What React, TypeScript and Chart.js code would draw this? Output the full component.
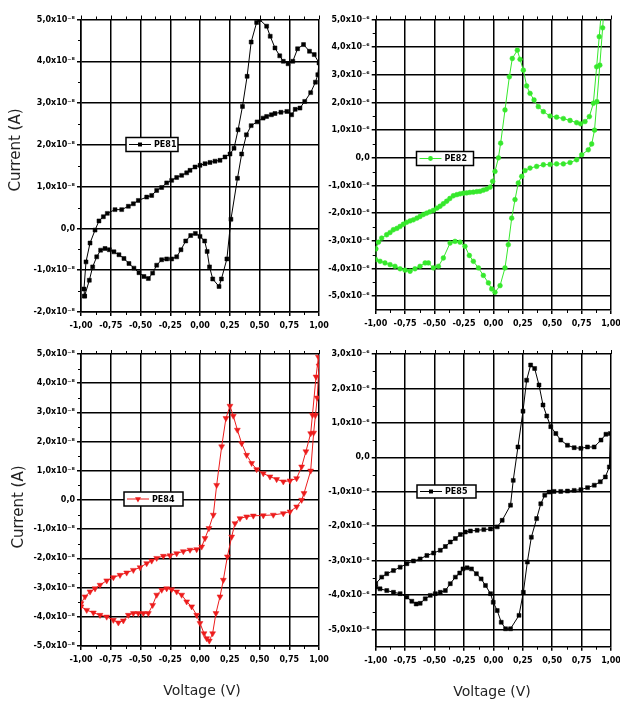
import React, { useEffect, useRef } from "react";
import { Chart, registerables } from "chart.js";
Chart.register(...registerables);

// ---------- tick values and labels ----------
const voltageTicks = [-1, -0.75, -0.5, -0.25, 0, 0.25, 0.5, 0.75, 1];
const voltageTickLabels = ["-1,00", "-0,75", "-0,50", "-0,25", "0,00", "0,25", "0,50", "0,75", "1,00"];

const pe81Ticks = [-2, -1, 0, 1, 2, 3, 4, 5];
const pe81TickLabels = ["-2,0x10⁻⁸", "-1,0x10⁻⁸", "0,0", "1,0x10⁻⁸", "2,0x10⁻⁸", "3,0x10⁻⁸", "4,0x10⁻⁸", "5,0x10⁻⁸"];

const pe82Ticks = [-5, -4, -3, -2, -1, 0, 1, 2, 3, 4, 5];
const pe82TickLabels = ["-5,0x10⁻⁶", "-4,0x10⁻⁶", "-3,0x10⁻⁶", "-2,0x10⁻⁶", "-1,0x10⁻⁶", "0,0", "1,0x10⁻⁶", "2,0x10⁻⁶", "3,0x10⁻⁶", "4,0x10⁻⁶", "5,0x10⁻⁶"];

const pe84Ticks = [-5, -4, -3, -2, -1, 0, 1, 2, 3, 4, 5];
const pe84TickLabels = ["-5,0x10⁻⁸", "-4,0x10⁻⁸", "-3,0x10⁻⁸", "-2,0x10⁻⁸", "-1,0x10⁻⁸", "0,0", "1,0x10⁻⁸", "2,0x10⁻⁸", "3,0x10⁻⁸", "4,0x10⁻⁸", "5,0x10⁻⁸"];

const pe85Ticks = [-5, -4, -3, -2, -1, 0, 1, 2, 3];
const pe85TickLabels = ["-5,0x10⁻⁶", "-4,0x10⁻⁶", "-3,0x10⁻⁶", "-2,0x10⁻⁶", "-1,0x10⁻⁶", "0,0", "1,0x10⁻⁶", "2,0x10⁻⁶", "3,0x10⁻⁶"];

// ---------- series (voltage in V, current in units of the tick multiplier) ----------
const pe81Voltage = [
  -0.97, -0.93, -0.902, -0.868, -0.835, -0.798, -0.762, -0.723, -0.681, -0.639, -0.597, -0.555, -0.513, -0.471, -0.434,
  -0.398, -0.364, -0.322, -0.28, -0.238, -0.196, -0.16, -0.12, -0.078, -0.039, 0.0, 0.039, 0.06, 0.08, 0.107, 0.16,
  0.18, 0.226, 0.26, 0.315, 0.35, 0.39, 0.43, 0.48, 0.53, 0.56, 0.6, 0.63, 0.68, 0.73, 0.77, 0.8, 0.84, 0.88, 0.93,
  0.97, 0.99, 1.0,
  0.96, 0.92, 0.87, 0.82, 0.78, 0.74, 0.7, 0.67, 0.63, 0.59, 0.56, 0.5, 0.476, 0.43, 0.396, 0.357, 0.32, 0.286,
  0.252, 0.21, 0.168, 0.126, 0.084, 0.042, 0.0, -0.042, -0.084, -0.112, -0.154, -0.196, -0.238, -0.28, -0.322,
  -0.364, -0.406, -0.448, -0.518, -0.56, -0.602, -0.658, -0.714, -0.779, -0.812, -0.849, -0.882, -0.924, -0.958,
  -0.975, -0.97,
];
const pe81Current = [
  -1.62, -1.24, -0.92, -0.68, -0.52, -0.48, -0.51, -0.56, -0.63, -0.72, -0.84, -0.95, -1.06, -1.15, -1.2,
  -1.07, -0.88, -0.75, -0.73, -0.73, -0.68, -0.51, -0.3, -0.17, -0.12, -0.19, -0.3, -0.55, -0.92, -1.21, -1.39,
  -1.21, -0.73, 0.22, 1.2, 1.78, 2.24, 2.46, 2.55, 2.64, 2.68, 2.72, 2.75, 2.78, 2.8, 2.72, 2.85, 2.88, 3.04, 3.25,
  3.5, 3.68, 3.96,
  4.16, 4.24, 4.4, 4.3, 4.0, 3.94, 4.0, 4.13, 4.32, 4.6, 4.84, 5.0, 4.93, 4.46, 3.64, 2.92, 2.36, 1.92,
  1.78, 1.71, 1.63, 1.61, 1.58, 1.55, 1.51, 1.47, 1.39, 1.33, 1.27, 1.22, 1.15, 1.09, 0.98,
  0.91, 0.79, 0.75, 0.67, 0.59, 0.53, 0.45, 0.45, 0.36, 0.28, 0.18, -0.04, -0.35, -0.8,
  -1.45, -1.62,
];

const pe82Voltage = [
  -1.0, -0.977, -0.949, -0.907, -0.878, -0.85, -0.82, -0.793, -0.765, -0.737, -0.708, -0.68, -0.65, -0.623, -0.595,
  -0.567, -0.54, -0.51, -0.48, -0.453, -0.425, -0.397, -0.37, -0.34, -0.31, -0.283, -0.255, -0.227, -0.2, -0.17,
  -0.14, -0.113, -0.085, -0.057, -0.028, -0.006, 0.014, 0.043, 0.062, 0.099, 0.136, 0.161, 0.204, 0.227, 0.255,
  0.283, 0.312, 0.346, 0.382, 0.425, 0.482, 0.538, 0.595, 0.652, 0.708, 0.742, 0.779, 0.816, 0.85, 0.878, 0.9, 0.92,
  0.94, 0.929, 0.905, 0.88, 0.86, 0.836, 0.807, 0.751, 0.708, 0.652, 0.595, 0.538, 0.482, 0.425, 0.368, 0.312,
  0.269, 0.241, 0.212, 0.184, 0.156, 0.127, 0.099, 0.057, 0.014, -0.014, -0.042, -0.085, -0.127, -0.17, -0.204,
  -0.241, -0.283, -0.326, -0.368, -0.425, -0.467, -0.51, -0.552, -0.58, -0.623, -0.666, -0.708, -0.75, -0.793,
  -0.836, -0.878, -0.921, -0.963, -1.0, -1.0,
];
const pe82Current = [
  -3.29, -3.05, -2.9, -2.78, -2.7, -2.6, -2.55, -2.48, -2.4, -2.33, -2.28, -2.24, -2.18, -2.12, -2.05,
  -2.0, -1.95, -1.9, -1.82, -1.75, -1.66, -1.57, -1.47, -1.37, -1.33, -1.3, -1.28, -1.27, -1.25, -1.24,
  -1.22, -1.21, -1.17, -1.13, -1.06, -0.85, -0.49, 0.0, 0.53, 1.73, 2.93, 3.59, 3.89, 3.56, 3.17,
  2.6, 2.33, 2.09, 1.85, 1.67, 1.51, 1.47, 1.42, 1.35, 1.27, 1.23, 1.31, 1.49, 1.97, 3.29, 4.38, 5.4,
  5.4, 4.7, 3.35, 2.03, 1.0, 0.5, 0.29, 0.11, -0.07, -0.17, -0.22, -0.22, -0.24, -0.25, -0.31, -0.37,
  -0.46, -0.67, -0.91, -1.51, -2.18, -3.14, -3.98, -4.62, -4.86, -4.74, -4.52, -4.25, -3.98, -3.74, -3.53,
  -3.2, -3.05, -3.02, -3.08, -3.62, -3.92, -3.98, -3.8, -3.8, -3.92, -4.01, -4.1, -4.06, -4.01,
  -3.92, -3.86, -3.8, -3.74, -3.68, -3.29,
];

const pe84Voltage = [
  -1.0, -0.966, -0.924, -0.882, -0.84, -0.784, -0.728, -0.672, -0.616, -0.56, -0.504, -0.448, -0.406, -0.364,
  -0.308, -0.252, -0.196, -0.14, -0.084, -0.028, 0.014, 0.042, 0.075, 0.112, 0.14, 0.182, 0.218, 0.252, 0.28,
  0.314, 0.35, 0.392, 0.434, 0.476, 0.532, 0.588, 0.644, 0.7, 0.756, 0.812, 0.854, 0.89, 0.93, 0.945, 0.975, 0.995,
  1.0, 0.985, 0.97, 0.955, 0.93, 0.874, 0.854, 0.812, 0.756, 0.7, 0.616, 0.532, 0.448, 0.392, 0.336, 0.294, 0.266,
  0.23, 0.196, 0.168, 0.134, 0.106, 0.078, 0.056, 0.034, 0.0, -0.028, -0.07, -0.112, -0.154, -0.196, -0.238,
  -0.28, -0.322, -0.364, -0.398, -0.434, -0.476, -0.518, -0.56, -0.602, -0.644, -0.686, -0.728, -0.784, -0.84,
  -0.896, -0.952, -1.0,
];
const pe84Current = [
  -3.54, -3.31, -3.14, -3.03, -2.91, -2.76, -2.65, -2.57, -2.49, -2.4, -2.31, -2.17, -2.08, -1.99,
  -1.92, -1.9, -1.83, -1.76, -1.71, -1.69, -1.6, -1.31, -0.97, -0.51, 0.51, 1.83, 2.8, 3.22, 2.88,
  2.4, 1.94, 1.54, 1.26, 1.05, 0.91, 0.8, 0.71, 0.63, 0.66, 0.74, 1.14, 1.66, 2.28, 2.91, 4.22, 4.9,
  4.6, 3.5, 2.9, 2.3, 1.0, 0.23, 0.0, -0.23, -0.4, -0.46, -0.51, -0.53, -0.54, -0.57, -0.63, -0.8, -1.26,
  -1.94, -2.74, -3.31, -3.88, -4.57, -4.82, -4.74, -4.57, -4.22, -3.94, -3.65, -3.48, -3.25, -3.14, -3.06,
  -3.03, -3.08, -3.25, -3.6, -3.88, -3.88, -3.88, -3.88, -3.94, -4.13, -4.2, -4.11, -4.0, -3.94,
  -3.86, -3.77, -3.65,
];

const pe85Voltage = [
  -1.0, -0.949, -0.906, -0.849, -0.792, -0.735, -0.679, -0.622, -0.565, -0.508, -0.451, -0.408, -0.366, -0.323,
  -0.28, -0.238, -0.195, -0.138, -0.081, -0.024, 0.033, 0.075, 0.146, 0.169, 0.209, 0.252, 0.283, 0.317, 0.351,
  0.388, 0.422, 0.454, 0.488, 0.531, 0.573, 0.63, 0.687, 0.744, 0.8, 0.857, 0.915, 0.957, 0.994,
  0.986, 0.952, 0.909, 0.858, 0.801, 0.744, 0.687, 0.63, 0.573, 0.516, 0.474, 0.437, 0.403, 0.368, 0.323, 0.289,
  0.255, 0.218, 0.146, 0.104, 0.067, 0.033, -0.001, -0.024, -0.067, -0.104, -0.144, -0.186, -0.223, -0.258,
  -0.286, -0.323, -0.366, -0.408, -0.451, -0.494, -0.536, -0.579, -0.622, -0.656, -0.693, -0.735, -0.792, -0.849,
  -0.906, -0.963, -1.0,
];
const pe85Current = [
  -3.67, -3.48, -3.38, -3.29, -3.19, -3.09, -3.01, -2.95, -2.85, -2.78, -2.7, -2.59, -2.46, -2.36,
  -2.24, -2.17, -2.14, -2.12, -2.1, -2.08, -2.02, -1.83, -1.39, -0.67, 0.3, 1.34, 2.24, 2.68, 2.58,
  2.1, 1.52, 1.2, 0.89, 0.69, 0.5, 0.35, 0.28, 0.26, 0.3, 0.3, 0.5, 0.67, 0.69,
  -0.28, -0.57, -0.71, -0.81, -0.88, -0.94, -0.96, -0.98, -0.99, -0.99, -1.01, -1.1, -1.35, -1.78, -2.32, -3.04,
  -3.92, -4.59, -4.98, -4.98, -4.79, -4.45, -4.21, -3.96, -3.72, -3.53, -3.38, -3.24, -3.21, -3.24,
  -3.36, -3.48, -3.67, -3.87, -3.92, -3.96, -4.01, -4.11, -4.24, -4.26, -4.18, -4.06, -3.96, -3.92,
  -3.87, -3.82, -3.77,
];

// ---------- helpers ----------
const TICK_FONT = { family: "'DejaVu Sans', sans-serif", size: 8, weight: "bold" as const };

function drawMarker(ctx: CanvasRenderingContext2D, style: string, x: number, y: number, r: number, color: string) {
  ctx.save();
  ctx.fillStyle = color;
  ctx.beginPath();
  if (style === "rect") {
    const s = r / Math.SQRT2;
    ctx.rect(x - s, y - s, 2 * s, 2 * s);
  } else if (style === "triangleDown") {
    ctx.moveTo(x - r * 0.87, y - r * 0.5);
    ctx.lineTo(x + r * 0.87, y - r * 0.5);
    ctx.lineTo(x, y + r);
    ctx.closePath();
  } else {
    ctx.arc(x, y, r, 0, Math.PI * 2);
  }
  ctx.fill();
  ctx.restore();
}

type Area = { left: number; right: number; top: number; bottom: number };
type PanelProps = {
  left: number;
  top: number;
  width: number;
  height: number;
  area: Area;
  xs: number[];
  ys: number[];
  label: string;
  color: string;
  marker: string;
  radius: number;
  yMin: number;
  yMax: number;
  yTicks: number[];
  yLabels: string[];
  legend: { x: number; y: number; w: number; h: number };
};

function Panel(p: PanelProps) {
  const ref = useRef<HTMLCanvasElement | null>(null);
  useEffect(() => {
    if (!ref.current) return;
    const pointStyle = p.marker === "triangleDown" ? "triangle" : p.marker;
    const rotation = p.marker === "triangleDown" ? 180 : 0;

    const legendPlugin = {
      id: "boxLegend",
      afterDraw(chart: any) {
        const ctx: CanvasRenderingContext2D = chart.ctx;
        const { x, y, w, h } = p.legend;
        ctx.save();
        ctx.fillStyle = "#fff";
        ctx.fillRect(x, y, w, h);
        ctx.strokeStyle = "#000";
        ctx.lineWidth = 1.5;
        ctx.strokeRect(x, y, w, h);
        const cy = y + h / 2;
        ctx.strokeStyle = p.color;
        ctx.lineWidth = 1;
        ctx.beginPath();
        ctx.moveTo(x + 3, cy);
        ctx.lineTo(x + 25, cy);
        ctx.stroke();
        drawMarker(ctx, p.marker, x + 14, cy, p.radius, p.color);
        ctx.fillStyle = "#000";
        ctx.font = "bold 8px 'DejaVu Sans', sans-serif";
        ctx.textBaseline = "middle";
        ctx.textAlign = "left";
        ctx.fillText(p.label, x + 28, cy + 0.5);
        ctx.restore();
      },
    };

    const minorTicks = {
      id: "minorTicks",
      afterDraw(chart: any) {
        const ctx: CanvasRenderingContext2D = chart.ctx;
        const xs = chart.scales.x;
        const ys = chart.scales.y;
        const a = chart.chartArea;
        ctx.save();
        ctx.strokeStyle = "#000";
        ctx.lineWidth = 1;
        ctx.beginPath();
        for (let i = 0; i < p.yTicks.length; i++) {
          const v = p.yTicks[i] - 0.5;
          if (v > p.yMin) {
            const py = Math.round(ys.getPixelForValue(v)) + 0.5;
            ctx.moveTo(a.left, py);
            ctx.lineTo(a.left - 3, py);
          }
        }
        for (let i = 0; i < voltageTicks.length - 1; i++) {
          const v = (voltageTicks[i] + voltageTicks[i + 1]) / 2;
          const px = Math.round(xs.getPixelForValue(v)) + 0.5;
          ctx.moveTo(px, a.bottom);
          ctx.lineTo(px, a.bottom + 3);
          ctx.moveTo(px, a.top);
          ctx.lineTo(px, a.top - 3);
        }
        for (let i = 0; i < voltageTicks.length; i++) {
          const px = Math.round(xs.getPixelForValue(voltageTicks[i])) + 0.5;
          ctx.moveTo(px, a.top);
          ctx.lineTo(px, a.top - 4);
        }
        ctx.stroke();
        ctx.restore();
      },
    };

    const chart = new Chart(ref.current, {
      type: "scatter",
      data: {
        datasets: [
          {
            label: p.label,
            data: p.xs.map((x, i) => ({ x, y: p.ys[i] })),
            showLine: true,
            borderColor: p.color,
            borderWidth: 1,
            backgroundColor: p.color,
            pointStyle: pointStyle as any,
            rotation,
            pointRadius: p.radius,
            pointBorderWidth: 0.5,
            pointBackgroundColor: p.color,
            pointBorderColor: p.color,
            tension: 0,
          },
        ],
      },
      options: {
        responsive: false,
        animation: false,
        devicePixelRatio: 1,
        events: [],
        layout: { padding: { left: 0, top: p.area.top, right: p.width - p.area.right, bottom: 0 } },
        plugins: { legend: { display: false }, tooltip: { enabled: false } },
        scales: {
          x: {
            type: "linear",
            position: "bottom",
            min: -1,
            max: 1,
            afterBuildTicks: (s: any) => {
              s.ticks = voltageTicks.map((v) => ({ value: v }));
            },
            afterFit: (s: any) => {
              s.height = p.height - p.area.bottom;
              s.paddingLeft = 0;
              s.paddingRight = 0;
            },
            ticks: {
              autoSkip: false,
              maxRotation: 0,
              padding: 5,
              color: "#000",
              font: TICK_FONT,
              callback: (v: any) => {
                const i = voltageTicks.indexOf(Number(v));
                return i >= 0 ? voltageTickLabels[i] : "";
              },
            },
            grid: { color: "#000", lineWidth: 1.5, tickLength: 4 },
            border: { color: "#000", width: 1.5 },
          },
          y: {
            type: "linear",
            position: "left",
            min: p.yMin,
            max: p.yMax,
            afterBuildTicks: (s: any) => {
              s.ticks = p.yTicks.map((v) => ({ value: v }));
            },
            afterFit: (s: any) => {
              s.width = p.area.left;
              s.paddingTop = 0;
              s.paddingBottom = 0;
            },
            ticks: {
              autoSkip: false,
              padding: 2,
              color: "#000",
              font: TICK_FONT,
              callback: (v: any) => {
                const i = p.yTicks.indexOf(Number(v));
                return i >= 0 ? p.yLabels[i] : "";
              },
            },
            grid: { color: "#000", lineWidth: 1.5, tickLength: 4 },
            border: { color: "#000", width: 1.5 },
          },
        },
      },
      plugins: [legendPlugin, minorTicks],
    } as any);
    return () => chart.destroy();
  }, []);
  return (
    <canvas
      ref={ref}
      width={p.width}
      height={p.height}
      style={{ position: "absolute", left: p.left, top: p.top, width: p.width, height: p.height }}
    />
  );
}

const titleStyle: React.CSSProperties = {
  position: "absolute",
  fontFamily: "'DejaVu Sans', sans-serif",
  color: "#222",
  whiteSpace: "nowrap",
  lineHeight: 1,
};

function YTitle({ cx, cy }: { cx: number; cy: number }) {
  return (
    <div
      style={{
        ...titleStyle,
        fontSize: 15,
        left: cx,
        top: cy,
        transform: "translate(-50%, -50%) rotate(-90deg)",
      }}
    >
      Current (A)
    </div>
  );
}

function XTitle({ cx, cy }: { cx: number; cy: number }) {
  return (
    <div style={{ ...titleStyle, fontSize: 14, left: cx, top: cy, transform: "translate(-50%, -50%)" }}>
      Voltage (V)
    </div>
  );
}

export default function App() {
  return (
    <div style={{ position: "absolute", left: 0, top: 0, width: 620, height: 702, background: "#fff", overflow: "hidden" }}>
      <Panel
        left={0}
        top={0}
        width={340}
        height={345}
        area={{ left: 81, right: 319, top: 19.5, bottom: 312 }}
        xs={pe81Voltage}
        ys={pe81Current}
        label="PE81"
        color="#000000"
        marker="rect"
        radius={2.8}
        yMin={-2}
        yMax={5}
        yTicks={pe81Ticks}
        yLabels={pe81TickLabels}
        legend={{ x: 126, y: 137.5, w: 52, h: 14 }}
      />
      <Panel
        left={320}
        top={0}
        width={300}
        height={345}
        area={{ left: 55.7, right: 291, top: 19.5, bottom: 310 }}
        xs={pe82Voltage}
        ys={pe82Current}
        label="PE82"
        color="#36e82c"
        marker="circle"
        radius={2.4}
        yMin={-5.5}
        yMax={5}
        yTicks={pe82Ticks}
        yLabels={pe82TickLabels}
        legend={{ x: 96.5, y: 151.5, w: 57, h: 14 }}
      />
      <Panel
        left={0}
        top={335}
        width={340}
        height={340}
        area={{ left: 81, right: 319, top: 19, bottom: 311 }}
        xs={pe84Voltage}
        ys={pe84Current}
        label="PE84"
        color="#ec1c1c"
        marker="triangleDown"
        radius={3.4}
        yMin={-5}
        yMax={5}
        yTicks={pe84Ticks}
        yLabels={pe84TickLabels}
        legend={{ x: 124, y: 157, w: 59, h: 14 }}
      />
      <Panel
        left={320}
        top={335}
        width={300}
        height={340}
        area={{ left: 55.7, right: 291, top: 19, bottom: 311.7 }}
        xs={pe85Voltage}
        ys={pe85Current}
        label="PE85"
        color="#000000"
        marker="rect"
        radius={2.8}
        yMin={-5.5}
        yMax={3}
        yTicks={pe85Ticks}
        yLabels={pe85TickLabels}
        legend={{ x: 97, y: 150, w: 59, h: 13 }}
      />
      <YTitle cx={15} cy={150} />
      <YTitle cx={18} cy={507} />
      <XTitle cx={202} cy={690} />
      <XTitle cx={492} cy={691} />
    </div>
  );
}
